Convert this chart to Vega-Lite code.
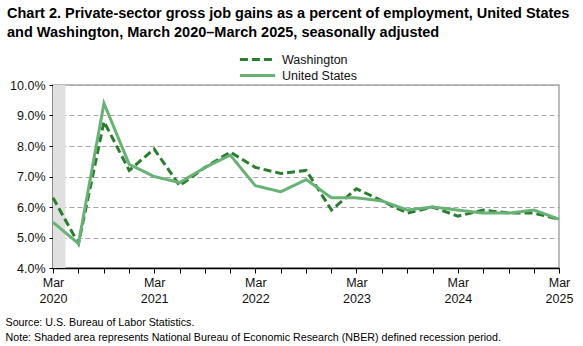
{
  "$schema": "https://vega.github.io/schema/vega-lite/v6.json",
  "autosize": "none",
  "width": 506,
  "height": 183,
  "padding": {"left": 53, "top": 85, "right": 24, "bottom": 78},
  "background": "white",
  "title": {
    "text": ["Chart 2. Private-sector gross job gains as a percent of employment, United States", "and Washington, March 2020–March 2025, seasonally adjusted"],
    "anchor": "start",
    "frame": "group",
    "dx": -46,
    "font": "Liberation Sans",
    "fontSize": 14.5,
    "fontWeight": "bold",
    "color": "#000000",
    "lineHeight": 19,
    "offset": 10
  },
  "config": {
    "view": {"stroke": "#a6a6a6", "strokeWidth": 1.5},
    "font": "Liberation Sans",
    "axisX": {
      "labelOverlap": false,
      "labelFontSize": 12.5,
      "labelColor": "#111111",
      "labelFont": "Liberation Sans",
      "labelPadding": 3,
      "labelLineHeight": 16,
      "labelFlush": false,
      "domainColor": "#000000",
      "domainWidth": 1.5,
      "tickColor": "#000000",
      "tickSize": 5,
      "tickWidth": 1,
      "grid": false,
      "titleAlign": "left",
      "titleAnchor": "start",
      "titleBaseline": "top",
      "titleX": -48,
      "titleY": 49,
      "titleFont": "Liberation Sans",
      "titleFontSize": 10.7,
      "titleFontWeight": "normal",
      "titleColor": "#000000",
      "titleLineHeight": 15
    },
    "axisY": {
      "labelOverlap": false,
      "labelFontSize": 12.5,
      "labelColor": "#111111",
      "labelFont": "Liberation Sans",
      "labelPadding": 4,
      "domainColor": "#000000",
      "domainWidth": 1.5,
      "tickColor": "#000000",
      "tickSize": 4,
      "grid": true,
      "gridColor": "#a6a6a6",
      "gridDash": [5, 3],
      "gridWidth": 1
    }
  },
  "datasets": {
    "series": [
      {"date": "2020-03-01", "series": "Washington", "value": 6.3},
      {"date": "2020-06-01", "series": "Washington", "value": 4.8},
      {"date": "2020-09-01", "series": "Washington", "value": 8.8},
      {"date": "2020-12-01", "series": "Washington", "value": 7.2},
      {"date": "2021-03-01", "series": "Washington", "value": 7.9},
      {"date": "2021-06-01", "series": "Washington", "value": 6.7},
      {"date": "2021-09-01", "series": "Washington", "value": 7.3},
      {"date": "2021-12-01", "series": "Washington", "value": 7.8},
      {"date": "2022-03-01", "series": "Washington", "value": 7.3},
      {"date": "2022-06-01", "series": "Washington", "value": 7.1},
      {"date": "2022-09-01", "series": "Washington", "value": 7.2},
      {"date": "2022-12-01", "series": "Washington", "value": 5.9},
      {"date": "2023-03-01", "series": "Washington", "value": 6.6},
      {"date": "2023-06-01", "series": "Washington", "value": 6.2},
      {"date": "2023-09-01", "series": "Washington", "value": 5.8},
      {"date": "2023-12-01", "series": "Washington", "value": 6.0},
      {"date": "2024-03-01", "series": "Washington", "value": 5.7},
      {"date": "2024-06-01", "series": "Washington", "value": 5.9},
      {"date": "2024-09-01", "series": "Washington", "value": 5.8},
      {"date": "2024-12-01", "series": "Washington", "value": 5.8},
      {"date": "2025-03-01", "series": "Washington", "value": 5.6},
      {"date": "2020-03-01", "series": "United States", "value": 5.5},
      {"date": "2020-06-01", "series": "United States", "value": 4.8},
      {"date": "2020-09-01", "series": "United States", "value": 9.4},
      {"date": "2020-12-01", "series": "United States", "value": 7.4},
      {"date": "2021-03-01", "series": "United States", "value": 7.0},
      {"date": "2021-06-01", "series": "United States", "value": 6.8},
      {"date": "2021-09-01", "series": "United States", "value": 7.3},
      {"date": "2021-12-01", "series": "United States", "value": 7.7},
      {"date": "2022-03-01", "series": "United States", "value": 6.7},
      {"date": "2022-06-01", "series": "United States", "value": 6.5},
      {"date": "2022-09-01", "series": "United States", "value": 6.9},
      {"date": "2022-12-01", "series": "United States", "value": 6.3},
      {"date": "2023-03-01", "series": "United States", "value": 6.3},
      {"date": "2023-06-01", "series": "United States", "value": 6.2},
      {"date": "2023-09-01", "series": "United States", "value": 5.9},
      {"date": "2023-12-01", "series": "United States", "value": 6.0},
      {"date": "2024-03-01", "series": "United States", "value": 5.9},
      {"date": "2024-06-01", "series": "United States", "value": 5.8},
      {"date": "2024-09-01", "series": "United States", "value": 5.8},
      {"date": "2024-12-01", "series": "United States", "value": 5.9},
      {"date": "2025-03-01", "series": "United States", "value": 5.6}
    ],
    "recession": [
      {"start": "2020-03-01", "end": "2020-04-15", "low": 4, "high": 10}
    ]
  },
  "layer": [
    {
      "data": {"name": "recession"},
      "mark": {"type": "rect", "color": "#e0e0e0"},
      "encoding": {
        "x": {
          "field": "start", "type": "temporal",
          "scale": {"type": "utc", "domain": [{"year": 2020, "month": 3, "date": 1, "utc": true}, {"year": 2025, "month": 3, "date": 1, "utc": true}]},
          "axis": {
            "values": [
              {"year": 2020, "month": 3, "date": 1, "utc": true},
              {"year": 2020, "month": 6, "date": 1, "utc": true},
              {"year": 2020, "month": 9, "date": 1, "utc": true},
              {"year": 2020, "month": 12, "date": 1, "utc": true},
              {"year": 2021, "month": 3, "date": 1, "utc": true},
              {"year": 2021, "month": 6, "date": 1, "utc": true},
              {"year": 2021, "month": 9, "date": 1, "utc": true},
              {"year": 2021, "month": 12, "date": 1, "utc": true},
              {"year": 2022, "month": 3, "date": 1, "utc": true},
              {"year": 2022, "month": 6, "date": 1, "utc": true},
              {"year": 2022, "month": 9, "date": 1, "utc": true},
              {"year": 2022, "month": 12, "date": 1, "utc": true},
              {"year": 2023, "month": 3, "date": 1, "utc": true},
              {"year": 2023, "month": 6, "date": 1, "utc": true},
              {"year": 2023, "month": 9, "date": 1, "utc": true},
              {"year": 2023, "month": 12, "date": 1, "utc": true},
              {"year": 2024, "month": 3, "date": 1, "utc": true},
              {"year": 2024, "month": 6, "date": 1, "utc": true},
              {"year": 2024, "month": 9, "date": 1, "utc": true},
              {"year": 2024, "month": 12, "date": 1, "utc": true},
              {"year": 2025, "month": 3, "date": 1, "utc": true}
            ],
            "labelExpr": "utcFormat(datum.value, '%m') == '03' ? [utcFormat(datum.value, '%b'), utcFormat(datum.value, '%Y')] : ''",
            "title": ["Source: U.S. Bureau of Labor Statistics.", "Note: Shaded area represents National Bureau of Economic Research (NBER) defined recession period."]
          }
        },
        "x2": {"field": "end"},
        "y": {
          "field": "low", "type": "quantitative",
          "scale": {"domain": [4, 10], "nice": false, "zero": false},
          "axis": {"title": null, "values": [4, 5, 6, 7, 8, 9, 10], "labelExpr": "format(datum.value, '.1f') + '%'"}
        },
        "y2": {"field": "high"}
      }
    },
    {
      "data": {"name": "series"},
      "mark": {"type": "line", "strokeWidth": 3, "clip": false},
      "encoding": {
        "x": {
          "field": "date",
          "type": "temporal",
          "axis": {
            "values": [
              {"year": 2020, "month": 3, "date": 1, "utc": true},
              {"year": 2020, "month": 6, "date": 1, "utc": true},
              {"year": 2020, "month": 9, "date": 1, "utc": true},
              {"year": 2020, "month": 12, "date": 1, "utc": true},
              {"year": 2021, "month": 3, "date": 1, "utc": true},
              {"year": 2021, "month": 6, "date": 1, "utc": true},
              {"year": 2021, "month": 9, "date": 1, "utc": true},
              {"year": 2021, "month": 12, "date": 1, "utc": true},
              {"year": 2022, "month": 3, "date": 1, "utc": true},
              {"year": 2022, "month": 6, "date": 1, "utc": true},
              {"year": 2022, "month": 9, "date": 1, "utc": true},
              {"year": 2022, "month": 12, "date": 1, "utc": true},
              {"year": 2023, "month": 3, "date": 1, "utc": true},
              {"year": 2023, "month": 6, "date": 1, "utc": true},
              {"year": 2023, "month": 9, "date": 1, "utc": true},
              {"year": 2023, "month": 12, "date": 1, "utc": true},
              {"year": 2024, "month": 3, "date": 1, "utc": true},
              {"year": 2024, "month": 6, "date": 1, "utc": true},
              {"year": 2024, "month": 9, "date": 1, "utc": true},
              {"year": 2024, "month": 12, "date": 1, "utc": true},
              {"year": 2025, "month": 3, "date": 1, "utc": true}
            ],
            "labelExpr": "utcFormat(datum.value, '%m') == '03' ? [utcFormat(datum.value, '%b'), utcFormat(datum.value, '%Y')] : ''",
            "title": ["Source: U.S. Bureau of Labor Statistics.", "Note: Shaded area represents National Bureau of Economic Research (NBER) defined recession period."]
          }
        },
        "y": {
          "field": "value",
          "type": "quantitative",
          "axis": {"title": null, "values": [4, 5, 6, 7, 8, 9, 10], "labelExpr": "format(datum.value, '.1f') + '%'"}
        },
        "color": {
          "field": "series",
          "type": "nominal",
          "scale": {"domain": ["Washington", "United States"], "range": ["#2a7d2e", "#68b276"]},
          "legend": {
            "orient": "none",
            "legendX": 195,
            "legendY": -35,
            "title": null,
            "symbolType": "M-2.2,0H2.2",
            "symbolSize": 256,
            "symbolStrokeWidth": 3,
            "labelFontSize": 12.5,
            "labelFont": "Liberation Sans",
            "labelColor": "#111111",
            "rowPadding": 0,
            "labelOffset": 15
          }
        },
        "strokeDash": {
          "field": "series",
          "type": "nominal",
          "scale": {"domain": ["Washington", "United States"], "range": [[8, 4], [1, 0]]},
          "legend": null
        }
      }
    }
  ]
}
